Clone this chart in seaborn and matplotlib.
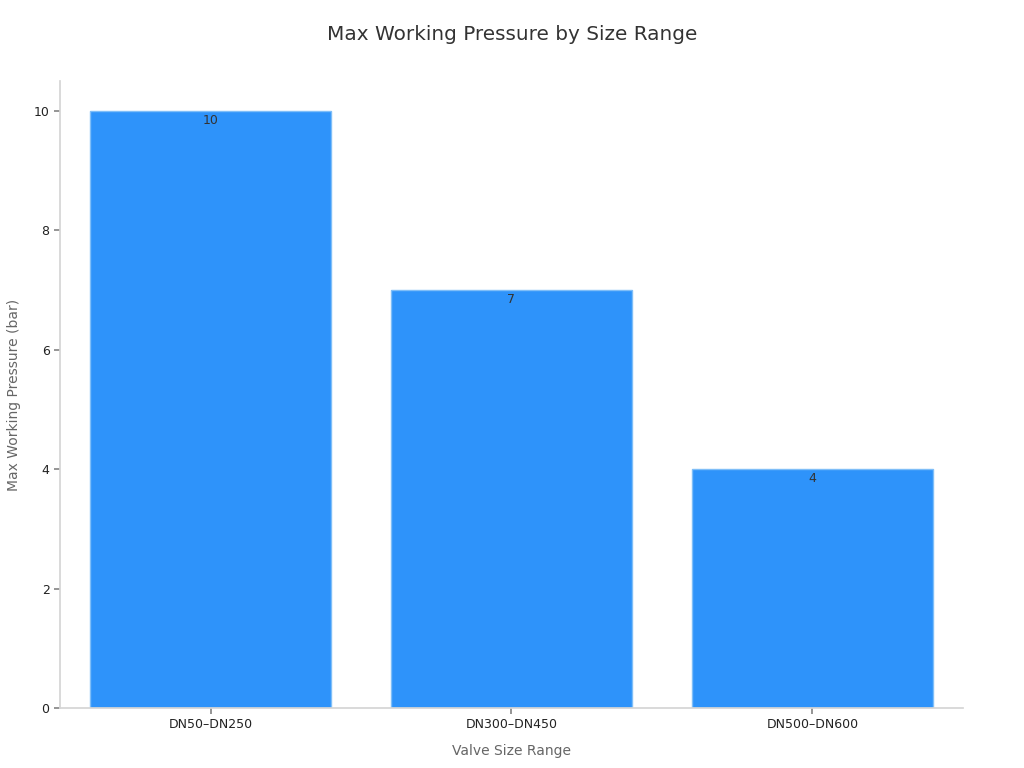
import matplotlib
matplotlib.use("Agg")
import matplotlib.pyplot as plt
import seaborn as sns
import pandas as pd

categories = ["DN50–DN250", "DN300–DN450", "DN500–DN600"]
pressures = [10, 7, 4]

sns.set_theme(style="ticks")
plt.rcParams['font.family'] = ['DejaVu Sans']

df = pd.DataFrame({"Valve Size Range": categories, "Max Working Pressure (bar)": pressures})

fig = plt.figure(figsize=(10.24, 7.68), dpi=100)
ax = fig.add_axes([0.0586, 0.0781, 0.8818, 0.8164])
sns.barplot(data=df, x="Valve Size Range", y="Max Working Pressure (bar)", ax=ax,
            color="#2E93FA", saturation=1, width=0.8, edgecolor="#7FBEF8", linewidth=1)

for p, v in zip(ax.patches, pressures):
    ax.text(p.get_x() + p.get_width() / 2, p.get_height() - 0.05, f"{v}",
            ha="center", va="top", fontsize=9, color="#333333")

ax.set_xlim(-0.5, 2.5)
ax.set_ylim(0, 10.5)
ax.set_yticks([0, 2, 4, 6, 8, 10])
for s in ["top", "right"]:
    ax.spines[s].set_visible(False)
for s in ["left", "bottom"]:
    ax.spines[s].set_color("#D5D5D5")
ax.tick_params(axis="both", colors="#888888", labelcolor="#222222", labelsize=9, length=4)
ax.set_xlabel("Valve Size Range", fontsize=10, color="#666666", labelpad=9)
ax.set_ylabel("Max Working Pressure (bar)", fontsize=10, color="#666666", labelpad=9)
fig.suptitle("Max Working Pressure by Size Range", fontsize=14.4, color="#333333", y=0.968)

fig.savefig("out.png", dpi=100)
